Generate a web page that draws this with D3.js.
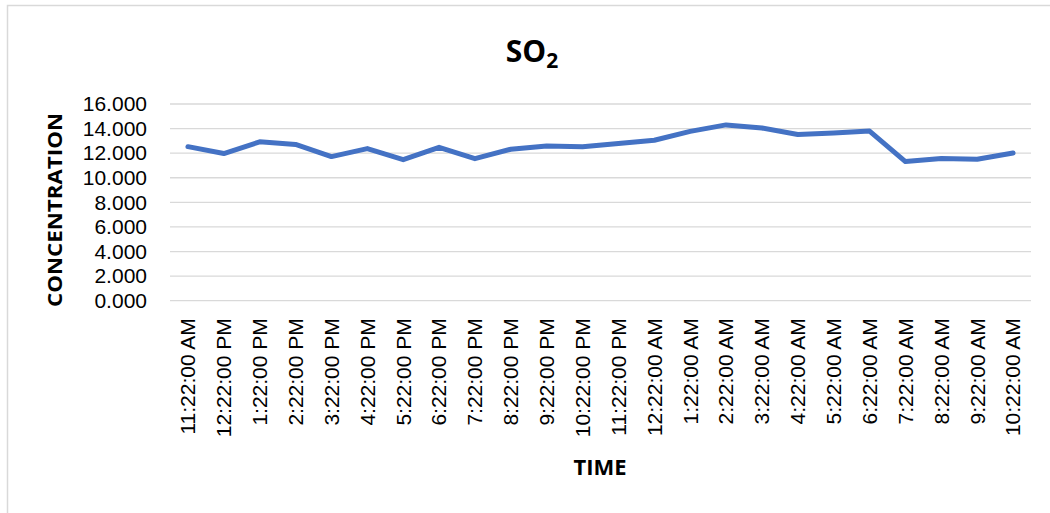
<!DOCTYPE html>
<html>
<head>
<meta charset="utf-8">
<script src="https://cdn.jsdelivr.net/npm/d3@7"></script>
<style>
  html, body { margin: 0; padding: 0; background: #fff; }
  svg { display: block; }
  text { font-family: "Open Sans", "Liberation Sans", sans-serif; fill: #000; }
</style>
</head>
<body>
<svg id="chart" width="1050" height="513"></svg>
<script>
// Hourly sampling times
const times = [
  "11:22:00 AM", "12:22:00 PM", "1:22:00 PM", "2:22:00 PM", "3:22:00 PM",
  "4:22:00 PM", "5:22:00 PM", "6:22:00 PM", "7:22:00 PM", "8:22:00 PM",
  "9:22:00 PM", "10:22:00 PM", "11:22:00 PM", "12:22:00 AM", "1:22:00 AM",
  "2:22:00 AM", "3:22:00 AM", "4:22:00 AM", "5:22:00 AM", "6:22:00 AM",
  "7:22:00 AM", "8:22:00 AM", "9:22:00 AM", "10:22:00 AM"
];

// SO2 concentration at each sampling time
const so2 = [
  12.53, 11.97, 12.92, 12.71, 11.72, 12.37, 11.47, 12.48, 11.55, 12.32,
  12.58, 12.53, 12.78, 13.05, 13.77, 14.30, 14.05, 13.52, 13.65, 13.80,
  11.32, 11.56, 11.50, 12.01
];

// Y axis tick values
const yTicks = [0, 2, 4, 6, 8, 10, 12, 14, 16];

const svg = d3.select("#chart");
const plot = { left: 170, right: 1031, top: 104, bottom: 300.7 };
const tickFont = "'Liberation Sans', Arial, sans-serif";

// Outer chart frame
svg.append("rect")
  .attr("x", 7.5).attr("y", 5.5)
  .attr("width", 1060).attr("height", 520)
  .attr("fill", "#fff")
  .attr("stroke", "#d9d9d9").attr("stroke-width", 1.5);

const x = d3.scaleBand().domain(times).range([plot.left, plot.right]);
const y = d3.scaleLinear().domain([0, 16]).range([plot.bottom, plot.top]);

// Horizontal gridlines
svg.append("g")
  .selectAll("line")
  .data(yTicks)
  .join("line")
  .attr("x1", plot.left).attr("x2", plot.right)
  .attr("y1", d => y(d)).attr("y2", d => y(d))
  .attr("stroke", "#d9d9d9").attr("stroke-width", 1.3);

// Y axis labels
const yAxis = d3.axisLeft(y).tickValues(yTicks).tickFormat(d3.format(".3f")).tickSize(0).tickPadding(23);
svg.append("g")
  .attr("transform", `translate(${plot.left},0)`)
  .call(yAxis)
  .call(g => g.select(".domain").remove())
  .selectAll("text")
  .attr("font-size", 21)
  .style("font-family", tickFont)
  .attr("fill", "#000");

// X axis labels, rotated
const xAxis = d3.axisBottom(x).tickSize(0).tickPadding(0);
svg.append("g")
  .attr("transform", `translate(0,${plot.bottom})`)
  .call(xAxis)
  .call(g => g.select(".domain").remove())
  .selectAll("text")
  .attr("font-size", 21)
  .style("font-family", tickFont)
  .attr("fill", "#000")
  .attr("text-anchor", "end")
  .attr("dy", "0.35em")
  .attr("transform", "translate(0,17.5) rotate(-90)")
  .attr("x", 0).attr("y", 0);

// Concentration line
const line = d3.line()
  .x((d, i) => x(times[i]) + x.bandwidth() / 2)
  .y(d => y(d));

svg.append("path")
  .datum(so2)
  .attr("d", line)
  .attr("fill", "none")
  .attr("stroke", "#4472c4")
  .attr("stroke-width", 5)
  .attr("stroke-linejoin", "round")
  .attr("stroke-linecap", "round");

// Title
const title = svg.append("text")
  .attr("x", 532).attr("y", 62)
  .attr("text-anchor", "middle")
  .attr("font-size", 30).attr("font-weight", "bold");
title.append("tspan").text("SO");
title.append("tspan").attr("font-size", 21).attr("dy", 6).text("2");

// Axis titles
svg.append("text")
  .attr("transform", `translate(62,210) rotate(-90)`)
  .attr("text-anchor", "middle")
  .attr("font-size", 20).attr("font-weight", "bold")
  .attr("textLength", 194).attr("lengthAdjust", "spacingAndGlyphs")
  .text("CONCENTRATION");

svg.append("text")
  .attr("x", 600).attr("y", 475)
  .attr("text-anchor", "middle")
  .attr("font-size", 22).attr("font-weight", "bold")
  .text("TIME");
</script>
</body>
</html>
